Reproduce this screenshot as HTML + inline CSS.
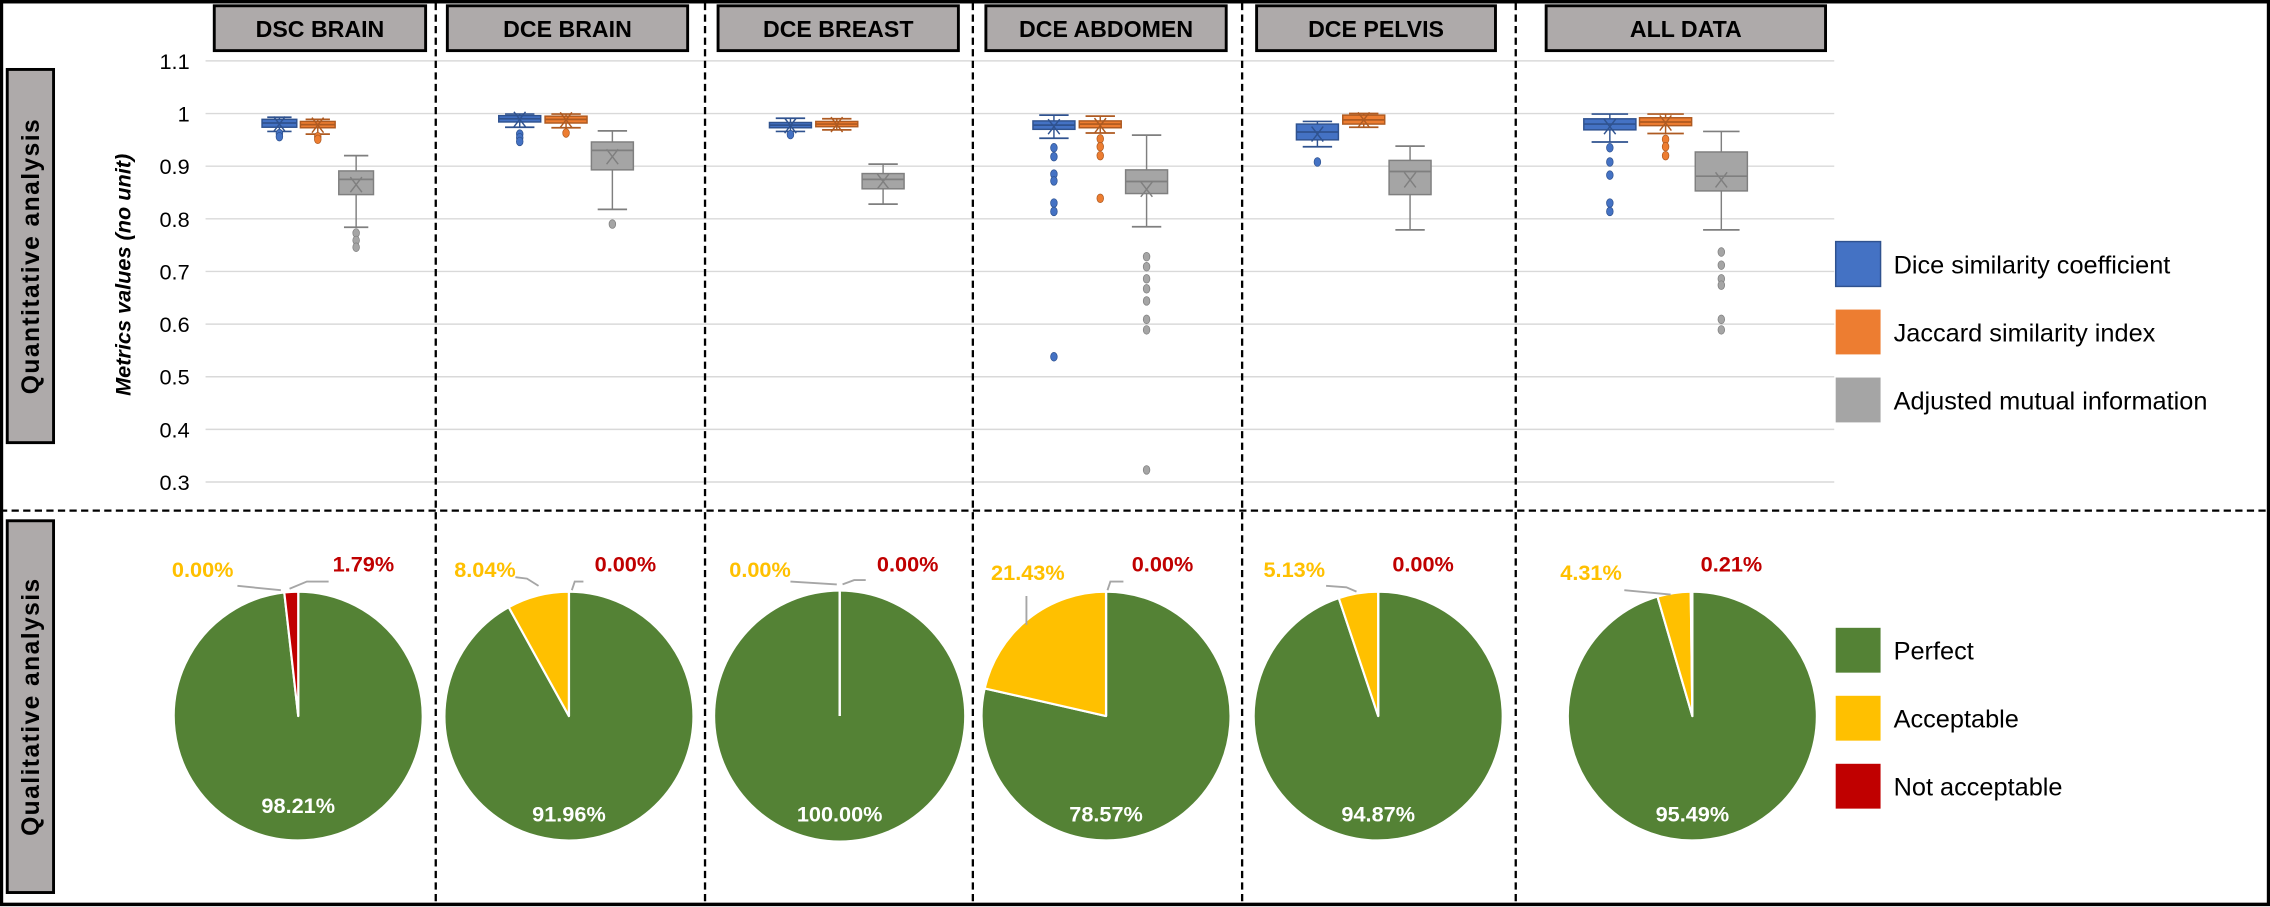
<!DOCTYPE html>
<html><head><meta charset="utf-8"><style>
html,body{margin:0;padding:0;background:#fff;}
svg{display:block;}
text{font-family:"Liberation Sans Narrow","Liberation Sans",sans-serif;}
</style></head><body>
<svg id="fig" width="2270" height="907" viewBox="0 0 1568 627" preserveAspectRatio="none" xmlns="http://www.w3.org/2000/svg"></svg>
<script>
// ---- data ----
const panels = ["DSC BRAIN","DCE BRAIN","DCE BREAST","DCE ABDOMEN","DCE PELVIS","ALL DATA"];
const seriesNames = ["Dice similarity coefficient","Jaccard similarity index","Adjusted mutual information"];
const yTicks = [1.1,1,0.9,0.8,0.7,0.6,0.5,0.4,0.3];
const yTickLabels = ["1.1","1","0.9","0.8","0.7","0.6","0.5","0.4","0.3"];
// [whiskerLow, q1, median, q3, whiskerHigh, mean]
const diceStats = [
  [0.966,0.974,0.982,0.989,0.993,0.980],
  [0.974,0.984,0.990,0.996,0.999,0.989],
  [0.966,0.973,0.978,0.983,0.991,0.977],
  [0.953,0.970,0.978,0.986,0.997,0.975],
  [0.937,0.950,0.965,0.980,0.985,0.961],
  [0.946,0.969,0.980,0.990,0.999,0.975]];
const jaccardStats = [
  [0.961,0.973,0.979,0.985,0.989,0.978],
  [0.973,0.982,0.989,0.995,0.999,0.988],
  [0.969,0.975,0.980,0.985,0.990,0.979],
  [0.963,0.973,0.980,0.986,0.995,0.977],
  [0.974,0.980,0.988,0.997,1.000,0.988],
  [0.962,0.977,0.984,0.992,0.999,0.982]];
const amiStats = [
  [0.784,0.846,0.875,0.891,0.920,0.865],
  [0.818,0.893,0.930,0.946,0.967,0.918],
  [0.828,0.857,0.875,0.886,0.904,0.871],
  [0.785,0.848,0.871,0.893,0.959,0.856],
  [0.779,0.846,0.890,0.911,0.938,0.874],
  [0.779,0.853,0.881,0.927,0.966,0.874]];
const diceOutliers = [[0.962,0.956],[0.961,0.954,0.947],[0.960],[0.935,0.918,0.885,0.872,0.830,0.814,0.538],[0.908],[0.935,0.908,0.883,0.830,0.814]];
const jaccardOutliers = [[0.956,0.951],[0.963],[],[0.952,0.937,0.920,0.839],[],[0.951,0.937,0.920]];
const amiOutliers = [[0.773,0.759,0.746],[0.790],[],[0.728,0.709,0.686,0.667,0.644,0.609,0.589,0.323],[],[0.737,0.712,0.686,0.674,0.609,0.589]];
const qualNames = ["Perfect","Acceptable","Not acceptable"];
const perfectPct = [98.21,91.96,100.00,78.57,94.87,95.49];
const acceptablePct = [0.00,8.04,0.00,21.43,5.13,4.31];
const notAcceptablePct = [1.79,0.00,0.00,0.00,0.00,0.21];

// ---- layout ----
const NS="http://www.w3.org/2000/svg";
const svg=document.getElementById('fig');
function el(tag,attrs,parent){const e=document.createElementNS(NS,tag);for(const k in attrs)e.setAttribute(k,attrs[k]);(parent||svg).appendChild(e);return e;}
const colors=["#4472c4","#ed7d31","#a5a5a5"], dark=["#2f528f","#ae5a21","#7f7f7f"];
const pieColors=["#548235","#ffc000","#c00000"];
const yTop=42.1, yScale=363.9;
function Y(v){return yTop+(1.1-v)*yScale;}
const groupCenter=[246,423,610,792,974,1189], groupStep=[26.5,32,32,32,32,38.5], boxW=[24,29,29,29,29,36];
const headerBox=[[148,294],[309,475],[496,662],[681,847],[868,1033],[1068,1261]];
const pieCx=[206,393,580,764,952,1169], pieCy=495, pieR=86;

// gridlines & ticks
yTicks.forEach((t,i)=>{
  const g=el('line',{x1:142,x2:1267,y1:Y(t),y2:Y(t),stroke:'#d9d9d9','stroke-width':1});
  
  
  const tx=el('text',{x:131,y:Y(t)+5.5,'text-anchor':'end','font-size':15,fill:'#000'});
  tx.textContent=yTickLabels[i];
  
  
});
const yt=el('text',{x:0,y:0,transform:'translate(90,190) rotate(-90)','text-anchor':'middle','font-size':15,'font-weight':'bold','font-style':'italic',fill:'#000',style:'font-family:"Liberation Sans",sans-serif'});
yt.textContent="Metrics values (no unit)";



// section labels
[["Quantitative analysis",48,306,'quantitative-label'],["Qualitative analysis",360,617,'qualitative-label']].forEach(s=>{
  const r=el('rect',{x:5,y:s[1],width:32,height:s[2]-s[1],fill:'#aeaaaa',stroke:'#000','stroke-width':2});
  
  
  const t=el('text',{x:0,y:0,transform:`translate(27,${(s[1]+s[2])/2}) rotate(-90)`,'text-anchor':'middle','font-size':17,'font-weight':'bold','letter-spacing':1,style:'font-family:"Liberation Sans",sans-serif'});
  t.textContent=s[0];
  
  
});

// headers
panels.forEach((p,i)=>{
  const [a,b]=headerBox[i];
  const r=el('rect',{x:a,y:4,width:b-a,height:31,fill:'#aeaaaa',stroke:'#000','stroke-width':2});
  
  
  const t=el('text',{x:(a+b)/2,y:25.5,'text-anchor':'middle','font-size':16,'font-weight':'bold'});
  t.textContent=p;
  
  
});

// boxplots
const allStats=[diceStats,jaccardStats,amiStats], allOut=[diceOutliers,jaccardOutliers,amiOutliers];
panels.forEach((p,i)=>{
  for(let s=0;s<3;s++){
    const st=allStats[s][i], cx=groupCenter[i]+(s-2)*groupStep[i], w=boxW[i], c=colors[s], d=dark[s];
    const g=el('g',{});
    
    
    const cw=w*0.35;
    el('line',{x1:cx,x2:cx,y1:Y(st[4]),y2:Y(st[3]),stroke:d,'stroke-width':1},g);
    el('line',{x1:cx,x2:cx,y1:Y(st[1]),y2:Y(st[0]),stroke:d,'stroke-width':1},g);
    el('line',{x1:cx-cw,x2:cx+cw,y1:Y(st[4]),y2:Y(st[4]),stroke:d,'stroke-width':1.2},g);
    el('line',{x1:cx-cw,x2:cx+cw,y1:Y(st[0]),y2:Y(st[0]),stroke:d,'stroke-width':1.2},g);
    el('rect',{x:cx-w/2,y:Y(st[3]),width:w,height:Math.max(1,Y(st[1])-Y(st[3])),fill:c,stroke:d,'stroke-width':1},g);
    el('line',{x1:cx-w/2,x2:cx+w/2,y1:Y(st[2]),y2:Y(st[2]),stroke:d,'stroke-width':1.2},g);
    const my=Y(st[5]), ms=4;
    el('path',{d:`M${cx-ms} ${my-ms*1.3}L${cx+ms} ${my+ms*1.3}M${cx+ms} ${my-ms*1.3}L${cx-ms} ${my+ms*1.3}`,stroke:d,'stroke-width':1,fill:'none'},g);
    allOut[s][i].forEach(v=>{
      const o=el('ellipse',{cx:cx,cy:Y(v),rx:2.3,ry:3,fill:c,stroke:d,'stroke-width':0.5},g);
      
      
    });
  }
});

// legends
function legend(items,cols,ys,prefix){
  items.forEach((n,i)=>{
    const r=el('rect',{x:1268,y:ys[i],width:31,height:31,fill:cols[i],stroke:i===0&&prefix==='metric'?'#2f528f':'none','stroke-width':1});
    
    
    const t=el('text',{x:1308,y:ys[i]+22,'font-size':17.5,fill:'#000'});
    t.textContent=n;
    
    
  });
}
legend(seriesNames,colors,[167,214,261],'metric');
legend(qualNames,pieColors,[434,481,528],'quality');

// pies
function pt(cx,cy,r,f){const a=f*2*Math.PI;return [cx+r*Math.sin(a),cy-r*Math.cos(a)];}
const leaderL=[[[164,405],[194,408]],[[356,399],[364,400],[372,405]],[[546,402],[578,404]],[[709,412],[709,432]],[[916,405],[930,406],[937,409]],[[1122,408],[1154,411]]];
const leaderR=[[[200,407],[212,402],[227,402]],[[395,408],[397,402],[403,402]],[[582,404],[590,401],[598,401]],[[765,408],[767,402],[776,402]],[],[]];
panels.forEach((p,i)=>{
  const cx=pieCx[i], cy=pieCy, r=pieR;
  const vals=[perfectPct[i],acceptablePct[i],notAcceptablePct[i]];
  const tot=vals.reduce((a,b)=>a+b,0);
  const g=el('g',{});
  
  
  let acc=0;
  vals.forEach((v,k)=>{
    const f=v/tot;
    if(f>=0.9999){
      const c=el('circle',{cx:cx,cy:cy,r:r,fill:pieColors[k]},g);
      
      
      el('line',{x1:cx,y1:cy,x2:cx,y2:cy-r,stroke:'#fff','stroke-width':1.5},g);
    } else if(f>0){
      const [x1,y1]=pt(cx,cy,r,acc),[x2,y2]=pt(cx,cy,r,acc+f);
      const s=el('path',{d:`M${cx} ${cy}L${x1} ${y1}A${r} ${r} 0 ${f>0.5?1:0} 1 ${x2} ${y2}Z`,fill:pieColors[k],stroke:'#fff','stroke-width':1.5,'stroke-linejoin':'round'},g);
      
      
    } else {
      el('line',{x1:cx,y1:cy,x2:cx,y2:cy-r,stroke:'#fff','stroke-width':1.5},g);
    }
    acc+=f;
  });
  [leaderL[i],leaderR[i]].forEach(l=>{ if(l.length) el('polyline',{points:l.map(q=>q.join(',')).join(' '),fill:'none',stroke:'#a6a6a6','stroke-width':1.3},g);});
  const tp=el('text',{x:cx,y:i===0?562:568,'text-anchor':'middle','font-size':15,'font-weight':'bold',fill:'#fff'},g);
  tp.textContent=perfectPct[i].toFixed(2)+'%';
  
  
  const ylx=[140,335,525,710,894,1099][i], yly=[399,399,399,401,399,401][i];
  const ty=el('text',{x:ylx,y:yly,'text-anchor':'middle','font-size':15,'font-weight':'bold',fill:'#ffc000'},g);
  ty.textContent=acceptablePct[i].toFixed(2)+'%';
  
  
  const rlx=[251,432,627,803,983,1196][i];
  const tr=el('text',{x:rlx,y:395,'text-anchor':'middle','font-size':15,'font-weight':'bold',fill:'#c00000'},g);
  tr.textContent=notAcceptablePct[i].toFixed(2)+'%';
  
  
});

// dividers and border
[301,487,672,858,1047].forEach(x=>{
  const l=el('line',{x1:x,x2:x,y1:2,y2:625,stroke:'#000','stroke-width':1.6,'stroke-dasharray':'5,3'});
  
  
});
const hl=el('line',{x1:0,x2:1568,y1:353,y2:353,stroke:'#000','stroke-width':1.6,'stroke-dasharray':'5,3'});


const bd=el('rect',{x:1,y:1.2,width:1566,height:624,fill:'none',stroke:'#000','stroke-width':2.4});


</script>
</body></html>
